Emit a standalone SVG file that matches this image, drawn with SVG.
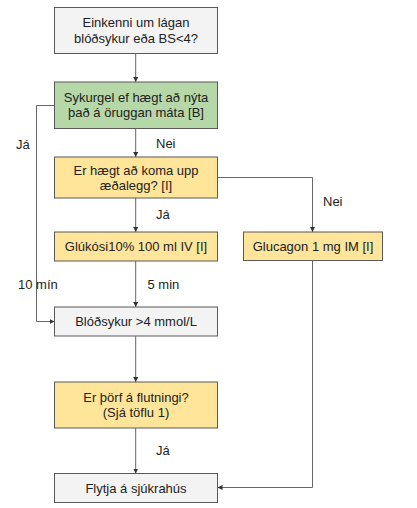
<svg xmlns="http://www.w3.org/2000/svg" width="417" height="508" viewBox="0 0 417 508">
<defs>
<marker id="ah" viewBox="0 0 10 10" refX="10" refY="5" markerWidth="5" markerHeight="5" orient="auto" markerUnits="userSpaceOnUse">
<path d="M0,0 L10,5 L0,10 z" fill="#333"/>
</marker>
<style>
.box{stroke:#595959;stroke-width:1}
.grey{fill:#f3f3f3}
.green{fill:#b6d7a8}
.yellow{fill:#ffe599}
text{font-family:"Liberation Sans",Arial,sans-serif;font-size:13px;fill:#222}
.c{text-anchor:middle}
.ln{fill:none;stroke:#666;stroke-width:1}
</style>
</defs>
<rect width="417" height="508" fill="#fff"/>
<g id="connectors">
<path class="ln" d="M135.7,53.5 V82" marker-end="url(#ah)"/>
<path class="ln" d="M135.7,128.5 V157" marker-end="url(#ah)"/>
<path class="ln" d="M217.5,177.5 H312.5 V232" marker-end="url(#ah)"/>
<path class="ln" d="M135.7,198 V232" marker-end="url(#ah)"/>
<path class="ln" d="M135.7,261 V307" marker-end="url(#ah)"/>
<path class="ln" d="M54.5,105.5 H36.5 V321.5 H54.5" marker-end="url(#ah)"/>
<path class="ln" d="M135.7,336 V382" marker-end="url(#ah)"/>
<path class="ln" d="M135.7,428 V473.5" marker-end="url(#ah)"/>
<path class="ln" d="M312.5,260.5 V487.5 H217.5" marker-end="url(#ah)"/>
<text x="16" y="149">Já</text>
<text x="156" y="147.7">Nei</text>
<text x="323" y="206.3">Nei</text>
<text x="156" y="219.3">Já</text>
<text x="18" y="288.7">10 mín</text>
<text x="147.5" y="288.7">5 min</text>
<text x="156" y="455.3">Já</text>
</g>
<g id="n1">
<rect class="box grey" x="54.5" y="7.5" width="163" height="46"/>
<text class="c" x="136" y="27.3">Einkenni um lágan</text>
<text class="c" x="136" y="42.5">blóðsykur eða BS&lt;4?</text>
</g>
<g id="n2">
<rect class="box green" x="54.5" y="82" width="163" height="46.5"/>
<text class="c" x="136" y="102">Sykurgel ef hægt að nýta</text>
<text class="c" x="136" y="117">það á öruggan máta [B]</text>
</g>
<g id="n3">
<rect class="box yellow" x="54.5" y="157" width="163" height="41"/>
<text class="c" x="136" y="174.5">Er hægt að koma upp</text>
<text class="c" x="136" y="189.5">æðalegg? [I]</text>
</g>
<g id="n4">
<rect class="box yellow" x="54.5" y="232" width="163" height="29"/>
<text class="c" x="136" y="251.2">Glúkósi10% 100 ml IV [I]</text>
</g>
<g id="n5">
<rect class="box yellow" x="243.5" y="232" width="139" height="28.5"/>
<text class="c" x="313" y="251">Glucagon 1 mg IM [I]</text>
</g>
<g id="n6">
<rect class="box grey" x="54.5" y="307" width="163" height="29"/>
<text class="c" x="136" y="326.2">Blóðsykur &gt;4 mmol/L</text>
</g>
<g id="n7">
<rect class="box yellow" x="54.5" y="382" width="163" height="46"/>
<text class="c" x="136" y="401.5">Er þörf á flutningi?</text>
<text class="c" x="136" y="416.5">(Sjá töflu 1)</text>
</g>
<g id="n8">
<rect class="box grey" x="54.5" y="473.5" width="163" height="29"/>
<text class="c" x="136" y="492.5">Flytja á sjúkrahús</text>
</g>
</svg>
